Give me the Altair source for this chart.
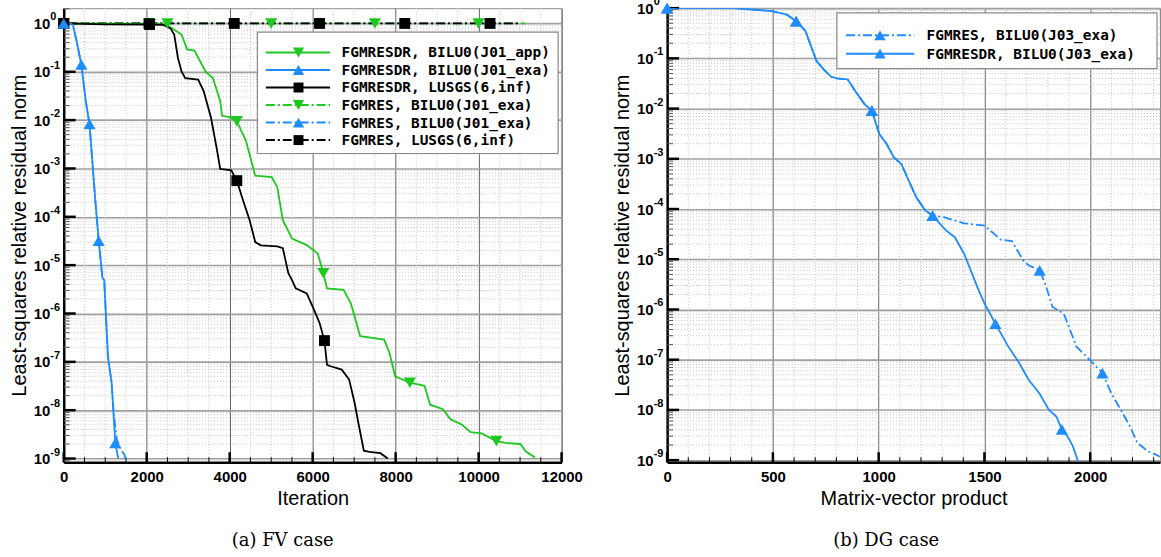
import altair as alt
import pandas as pd
import numpy as np

# ---------------- (a) FV case : residual vs iteration ----------------
fv_dr_app_x = [0, 2300, 2485, 2840, 2974, 3151, 3417, 3595, 3772, 3817, 3994, 4172, 4394, 4616,
               5015, 5148, 5281, 5503, 5858, 6124, 6258, 6346, 6746, 6923, 7145, 7722, 7855, 7988,
               8343, 8698, 8832, 9142, 9320, 9586, 9808, 10074, 10429, 10651, 11006, 11140, 11361]
fv_dr_app_y = [1.0, 0.97, 0.93, 0.59, 0.29, 0.275, 0.102, 0.074, 0.025, 0.0123, 0.0115, 0.0095,
               0.0037, 7.1e-4, 6.6e-4, 4.1e-4, 8.5e-5, 3.55e-5, 2.6e-5, 1.74e-5, 6.8e-6, 3.3e-6,
               3.1e-6, 1.6e-6, 3.4e-7, 2.9e-7, 1.5e-7, 5.0e-8, 3.7e-8, 3.2e-8, 1.3e-8, 1.05e-8,
               6.5e-9, 5.1e-9, 3.5e-9, 3.3e-9, 2.3e-9, 2.1e-9, 2.0e-9, 1.4e-9, 1.05e-9]
fv_dr_app_mx = [0, 2086, 4172, 6258, 8343, 10429]
fv_dr_app_my = [1.0, 0.97, 0.0095, 6.8e-6, 3.7e-8, 2.3e-9]

fv_dr_exa_x = [0, 180, 222, 311, 425, 530, 621, 754, 843, 932, 976, 1065, 1154, 1243, 1314]
fv_dr_exa_y = [1.0, 0.98, 0.93, 0.43, 0.141, 0.025, 8.3e-3, 2.6e-4, 3.2e-5, 5.5e-6, 4.9e-6,
               1.3e-7, 3.7e-8, 2.1e-9, 1.0e-9]
fv_dr_exa_mx = [0, 425, 843, 1243]
fv_dr_exa_my = [1.0, 0.141, 3.2e-5, 2.1e-9]

fv_dr_lusgs_x = [0, 1000, 2068, 2400, 2574, 2663, 2752, 2840, 2929, 3240, 3373, 3550, 3684, 3772,
                 4039, 4172, 4349, 4482, 4616, 4749, 5148, 5281, 5414, 5503, 5592, 5858, 6036,
                 6169, 6284, 6346, 6435, 6701, 6879, 7012, 7101, 7234, 7367, 7633, 7811]
fv_dr_lusgs_y = [1.0, 0.96, 0.95, 0.93, 0.79, 0.59, 0.195, 0.102, 0.074, 0.069, 0.040, 0.0112,
                 2.7e-3, 9.8e-4, 9.1e-4, 5.6e-4, 1.86e-4, 8.5e-5, 3.0e-5, 2.57e-5, 2.45e-5,
                 2.24e-5, 6.8e-6, 4.9e-6, 3.3e-6, 2.6e-6, 1.17e-6, 6.3e-7, 2.75e-7, 8.7e-8,
                 8.1e-8, 6.9e-8, 4.3e-8, 1.41e-8, 5.5e-9, 1.45e-9, 1.38e-9, 1.29e-9, 1.0e-9]
fv_dr_lusgs_mx = [0, 2068, 4172, 6284]
fv_dr_lusgs_my = [1.0, 0.95, 5.6e-4, 2.75e-7]

fv_gm_app_x = [0, 11120]
fv_gm_app_y = [1.0, 1.0]
fv_gm_app_mx = [0, 2500, 5000, 7500, 10000]
fv_gm_app_my = [1.0, 1.0, 1.0, 1.0, 1.0]

fv_gm_exa_x = [0, 180, 222, 311, 425, 530, 621, 754, 843, 932, 976, 1065, 1154, 1210, 1280,
               1380, 1465, 1500]
fv_gm_exa_y = [1.0, 0.98, 0.93, 0.43, 0.141, 0.025, 8.3e-3, 2.6e-4, 3.2e-5, 5.5e-6, 4.9e-6,
               1.3e-7, 3.7e-8, 8.0e-9, 2.5e-9, 1.5e-9, 1.2e-9, 9.0e-10]
fv_gm_exa_mx = [0, 621]
fv_gm_exa_my = [1.0, 8.3e-3]

fv_gm_lusgs_x = [0, 11000]
fv_gm_lusgs_y = [1.0, 1.0]
fv_gm_lusgs_mx = [0, 2055, 4110, 6165, 8220, 10275]
fv_gm_lusgs_my = [1.0, 1.0, 1.0, 1.0, 1.0, 1.0]

# ---------------- (b) DG case : residual vs matrix-vector products ----------------
dg_dr_x = [0, 323, 497, 567, 610, 654, 706, 741, 776, 802, 854, 889, 933, 968, 1003, 1037,
           1072, 1107, 1142, 1177, 1221, 1255, 1317, 1360, 1404, 1447, 1473, 1500, 1552, 1613,
           1665, 1709, 1761, 1805, 1840, 1866, 1892, 1918, 1944]
dg_dr_y = [1.0, 1.0, 0.87, 0.74, 0.55, 0.35, 0.089, 0.060, 0.043, 0.040, 0.038, 0.0224, 0.0123,
           9.1e-3, 3.1e-3, 2.0e-3, 1.07e-3, 7.9e-4, 3.7e-4, 1.74e-4, 9.3e-5, 7.4e-5, 3.8e-5,
           2.75e-5, 1.29e-5, 4.5e-6, 2.4e-6, 1.32e-6, 5.2e-7, 1.82e-7, 8.5e-8, 4.0e-8, 2.1e-8,
           1.0e-8, 7.4e-9, 4.1e-9, 3.0e-9, 1.9e-9, 9.1e-10]
dg_dr_mx = [0, 610, 968, 1255, 1552, 1866]
dg_dr_my = [1.0, 0.55, 9.1e-3, 7.4e-5, 5.2e-7, 4.1e-9]

dg_gm_x = [0, 323, 497, 567, 610, 654, 706, 741, 776, 802, 854, 889, 933, 968, 1003, 1037,
           1072, 1107, 1142, 1177, 1221, 1255, 1308, 1404, 1500, 1578, 1630, 1683, 1709, 1761,
           1787, 1822, 1875, 1935, 1997, 2058, 2101, 2153, 2188, 2223, 2273, 2310, 2330]
dg_gm_y = [1.0, 1.0, 0.87, 0.74, 0.55, 0.35, 0.089, 0.060, 0.043, 0.040, 0.038, 0.0224, 0.0123,
           9.1e-3, 3.1e-3, 2.0e-3, 1.07e-3, 7.9e-4, 3.7e-4, 1.74e-4, 9.3e-5, 7.4e-5, 6.9e-5,
           5.2e-5, 4.7e-5, 2.45e-5, 2.3e-5, 9.5e-6, 7.6e-6, 6.0e-6, 3.3e-6, 1.12e-6, 8.3e-7,
           1.82e-7, 1.0e-7, 5.4e-8, 2.1e-8, 8.7e-9, 4.7e-9, 2.2e-9, 1.5e-9, 1.29e-9, 1.17e-9]
dg_gm_mx = [0, 610, 968, 1255, 1761, 2058]
dg_gm_my = [1.0, 0.55, 9.1e-3, 7.4e-5, 6.0e-6, 5.4e-8]

fv_labels = ["FGMRESDR, BILU0(J01_app)", "FGMRESDR, BILU0(J01_exa)", "FGMRESDR, LUSGS(6,inf)",
             "FGMRES, BILU0(J01_exa)", "FGMRES, BILU0(J01_exa)", "FGMRES, LUSGS(6,inf)"]
dg_labels = ["FGMRES, BILU0(J03_exa)", "FGMRESDR, BILU0(J03_exa)"]

fv_xticks = [0, 2000, 4000, 6000, 8000, 10000, 12000]
dg_xticks = [0, 500, 1000, 1500, 2000]
y_exponents = [0, -1, -2, -3, -4, -5, -6, -7, -8, -9]

# ---------------- styling ----------------
GREEN = "#1ec81e"
BLUE = "#1e8cff"
BLACK = "#000000"
DASHDOT = [9, 3, 2, 3]
SANS = "Liberation Sans"
MONO = "DejaVu Sans Mono"
SERIF = "DejaVu Serif"

LABPAD = 14  # room between "10" and the axis for the exponent

minor_y = [k * 10.0 ** e for e in range(-10, 1) for k in range(2, 10)]
one = pd.DataFrame({"d": [0]})


def panel(series, xdomain, xticks, xminor_step, ydomain, width, height, xtitle,
          legend, caption, cap_dx):
    xscale = alt.Scale(domain=xdomain, nice=False, zero=False)
    yscale = alt.Scale(type="log", domain=ydomain, nice=False)
    ylo, yhi = ydomain
    decades = [10.0 ** e for e in y_exponents if ylo <= 10.0 ** e <= yhi * 1.0001]
    xaxis = alt.Axis(values=xticks, format="d", grid=True, gridColor="#666666", gridWidth=1,
                     ticks=False, domainColor="black", domainWidth=2.5,
                     labelFont=SANS, labelFontWeight="bold", labelFontSize=15,
                     labelColor="black", labelPadding=7, labelFlush=False,
                     title=xtitle, titleFont=SANS, titleFontSize=20, titleFontWeight="normal",
                     titleColor="black", titlePadding=4)
    yaxis = alt.Axis(values=decades, labelExpr="'10'", grid=True, gridColor="#a0a0a0",
                     gridWidth=1.6, ticks=False, domainColor="black", domainWidth=2.5,
                     labelFont=SANS, labelFontWeight="bold", labelFontSize=15,
                     labelColor="black", labelPadding=LABPAD,
                     title="Least-squares relative residual norm", titleFont=SANS,
                     titleFontSize=20, titleFontWeight="normal", titleColor="black",
                     titlePadding=4)
    X = lambda f: alt.X(f, scale=xscale, axis=xaxis)
    Y = lambda f: alt.Y(f, scale=yscale, axis=yaxis)

    xminor = [v for v in np.arange(xdomain[0], xdomain[1] + 1, xminor_step) if v not in xticks]
    yminor = [v for v in minor_y if ylo < v < yhi]

    layers = []
    # minor dotted grid
    layers.append(alt.Chart(pd.DataFrame({"v": xminor})).mark_rule(
        color="#c4c4c4", strokeWidth=1, strokeDash=[1, 2]).encode(x=X("v:Q")))
    layers.append(alt.Chart(pd.DataFrame({"v": yminor})).mark_rule(
        color="#c4c4c4", strokeWidth=1, strokeDash=[1, 2]).encode(y=Y("v:Q")))
    # inward ticks
    layers.append(alt.Chart(pd.DataFrame({"v": xminor})).mark_rule(
        color="black", strokeWidth=1).encode(x=X("v:Q"), y=alt.value(height),
                                              y2=alt.value(height - 5)))
    layers.append(alt.Chart(pd.DataFrame({"v": xticks})).mark_rule(
        color="black", strokeWidth=2.5).encode(x=X("v:Q"), y=alt.value(height),
                                                y2=alt.value(height - 10)))
    layers.append(alt.Chart(pd.DataFrame({"v": yminor})).mark_rule(
        color="#555555", strokeWidth=1).encode(y=Y("v:Q"), x=alt.value(0), x2=alt.value(6)))
    layers.append(alt.Chart(pd.DataFrame({"v": decades})).mark_rule(
        color="black", strokeWidth=2.5).encode(y=Y("v:Q"), x=alt.value(0), x2=alt.value(12)))
    # exponents of the y tick labels (superscripts)
    exps = pd.DataFrame({"v": decades,
                         "t": [str(e) for e in y_exponents if ylo <= 10.0 ** e <= yhi * 1.0001]})
    layers.append(alt.Chart(exps).mark_text(align="left", baseline="middle", dy=-6,
                                            font=SANS, fontWeight="bold", fontSize=11,
                                            color="black")
                  .encode(y=Y("v:Q"), x=alt.value(-LABPAD + 0.5), text="t:N"))

    # data lines and markers
    for s in series:
        kw = {}
        if s["dash"]:
            kw["strokeDash"] = DASHDOT
        df = pd.DataFrame({"x": s["x"], "y": s["y"], "i": range(len(s["x"]))})
        layers.append(alt.Chart(df).mark_line(color=s["color"], strokeWidth=1.8, clip=True, **kw)
                      .encode(x=X("x:Q"), y=Y("y:Q"), order="i:Q"))
    for s in series:
        dm = pd.DataFrame({"x": s["mx"], "y": s["my"]})
        layers.append(alt.Chart(dm).mark_point(shape=s["shape"], filled=True, opacity=1,
                                               size=s["size"], color=s["color"])
                      .encode(x=X("x:Q"), y=Y("y:Q")))

    # legend box
    bx0, bx1, by0, by1 = legend["box"]
    layers.append(alt.Chart(one).mark_rect(fill="white", stroke="#8a8a8a", strokeWidth=1.2)
                  .encode(x=alt.value(bx0), x2=alt.value(bx1), y=alt.value(by0), y2=alt.value(by1)))
    for k, (lab, s) in enumerate(zip(legend["labels"], legend["series"])):
        yy = legend["y0"] + legend["dy"] * k
        kw = {}
        if s["dash"]:
            kw["strokeDash"] = DASHDOT
        layers.append(alt.Chart(one).mark_rule(color=s["color"], strokeWidth=2, **kw)
                      .encode(x=alt.value(legend["sx"][0]), x2=alt.value(legend["sx"][1]),
                              y=alt.value(yy)))
        layers.append(alt.Chart(one).mark_point(shape=s["shape"], filled=True, opacity=1,
                                                size=s["lsize"], color=s["color"])
                      .encode(x=alt.value(legend["mx"]), y=alt.value(yy)))
        layers.append(alt.Chart(one).mark_text(text=lab, align="left", baseline="middle",
                                               font=MONO, fontWeight="bold", fontSize=14.5,
                                               color="black")
                      .encode(x=alt.value(legend["tx"]), y=alt.value(yy + 1)))

    return alt.layer(*layers).properties(
        width=width, height=height,
        title=alt.TitleParams(caption, orient="bottom", anchor="middle", frame="group",
                              font=SERIF, fontSize=18, fontWeight="normal", color="black",
                              offset=24, dx=cap_dx))


def S(x, y, mx, my, color, dash, shape):
    size = 120 if shape == "square" else 150
    lsize = 100 if shape == "square" else 130
    return dict(x=x, y=y, mx=mx, my=my, color=color, dash=dash, shape=shape,
                size=size, lsize=lsize)


fv_series = [
    S(fv_gm_app_x, fv_gm_app_y, fv_gm_app_mx, fv_gm_app_my, GREEN, True, "triangle-down"),
    S(fv_gm_lusgs_x, fv_gm_lusgs_y, fv_gm_lusgs_mx, fv_gm_lusgs_my, BLACK, True, "square"),
    S(fv_gm_exa_x, fv_gm_exa_y, fv_gm_exa_mx, fv_gm_exa_my, BLUE, True, "triangle-up"),
    S(fv_dr_app_x, fv_dr_app_y, fv_dr_app_mx, fv_dr_app_my, GREEN, False, "triangle-down"),
    S(fv_dr_lusgs_x, fv_dr_lusgs_y, fv_dr_lusgs_mx, fv_dr_lusgs_my, BLACK, False, "square"),
    S(fv_dr_exa_x, fv_dr_exa_y, fv_dr_exa_mx, fv_dr_exa_my, BLUE, False, "triangle-up"),
]
fv_leg_series = [fv_series[3], fv_series[5], fv_series[4], fv_series[0], fv_series[2], fv_series[1]]

dg_series = [
    S(dg_gm_x, dg_gm_y, dg_gm_mx, dg_gm_my, BLUE, True, "triangle-up"),
    S(dg_dr_x, dg_dr_y, dg_dr_mx, dg_dr_my, BLUE, False, "triangle-up"),
]

left = panel(fv_series, [0, 12000], fv_xticks, 500, [8.4e-10, 2.07], 500, 456, "Iteration",
             dict(box=[194.5, 496.5, 24, 146], labels=fv_labels, series=fv_leg_series,
                  y0=44.5, dy=17.6, sx=[203, 267.5], mx=235.8, tx=279),
             "(a) FV case", -30)
right = panel(dg_series, [0, 2330], dg_xticks, 100, [9.1e-10, 1.0], 495, 456,
              "Matrix-vector product",
              dict(box=[170.5, 492, 4.7, 60.7], labels=dg_labels, series=dg_series,
                   y0=27.3, dy=18.4, sx=[179.8, 248.3], mx=213.8, tx=260.5),
              "(b) DG case", -27.5)

chart = alt.hconcat(left, right, spacing=28).properties(
    padding={"left": 8, "top": -6, "right": 0, "bottom": 0}, background="white"
).configure_view(stroke="#8a8a8a", strokeWidth=1)

chart.save("out.html", embed_options={"renderer": "svg", "actions": False})
